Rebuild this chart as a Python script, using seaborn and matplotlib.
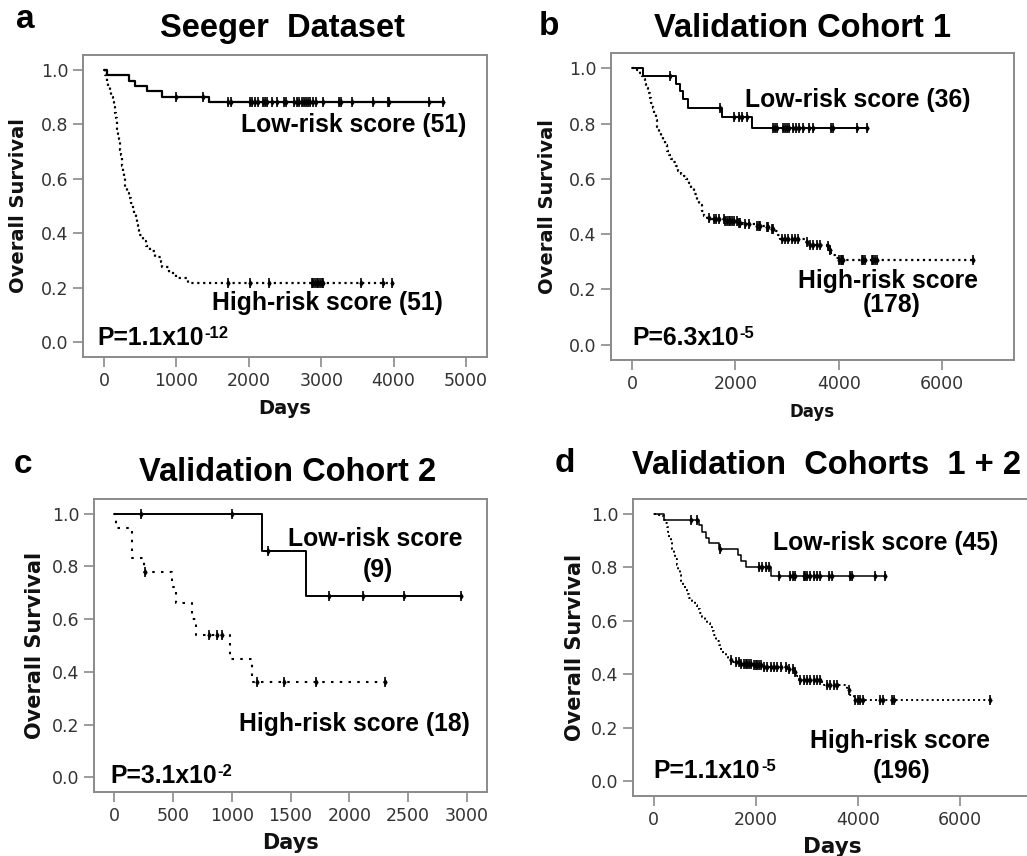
import numpy as np
import pandas as pd
import seaborn as sns
import matplotlib.pyplot as plt

# ---- panel a: Seeger dataset ----
a_low_t = [0, 45, 345, 430, 590, 805, 1455]
a_low_s = [1.0, 0.980, 0.961, 0.941, 0.922, 0.902, 0.882]
a_low_cens = [990, 1363, 1708, 1754, 2017, 2049, 2086, 2132, 2201, 2224, 2247, 2316, 2385,
              2491, 2514, 2629, 2661, 2698, 2730, 2762, 2790, 2822, 2845, 2891, 2928, 3020,
              3250, 3273, 3421, 3720, 3918, 3941, 4494, 4678]
a_high_t = [0, 20, 40, 60, 80, 100, 120, 140, 150, 165, 175, 185, 195, 205, 215, 225, 235,
            245, 255, 265, 275, 285, 295, 320, 350, 375, 395, 420, 440, 460, 470, 480, 540,
            585, 640, 700, 790, 800, 900, 1000, 1160]
a_high_s = [1.0, 0.980, 0.961, 0.941, 0.922, 0.902, 0.882, 0.863, 0.843, 0.824, 0.804,
            0.784, 0.765, 0.745, 0.725, 0.706, 0.686, 0.667, 0.647, 0.627, 0.608, 0.588,
            0.569, 0.549, 0.529, 0.510, 0.490, 0.471, 0.451, 0.431, 0.412, 0.392, 0.373,
            0.353, 0.333, 0.314, 0.294, 0.275, 0.255, 0.235, 0.216]
a_high_cens = [1717, 2017, 2284, 2868, 2891, 2914, 2937, 2960, 2983, 3006, 3029, 3545, 3849, 3973]

# ---- panel b: validation cohort 1 ----
b_low_t = [0, 213, 851, 930, 990, 1084, 1742, 2323]
b_low_s = [1.0, 0.972, 0.944, 0.917, 0.889, 0.855, 0.822, 0.783]
b_low_cens = [728, 1695, 1979, 2062, 2127, 2223, 2739, 2771, 2804, 2932, 2971, 3010, 3048,
              3126, 3177, 3242, 3319, 3435, 3500, 3854, 3899, 4350, 4544]
b_high_t = [0, 100, 150, 190, 220, 250, 280, 310, 340, 370, 400, 430, 460, 490, 520, 560,
            600, 640, 680, 720, 760, 800, 850, 900, 950, 1000, 1050, 1100, 1150, 1200, 1250,
            1300, 1350, 1400, 1450, 1520, 1800, 2050, 2150, 2400, 2600, 2700, 2780, 2830,
            2870, 3350, 3400, 3780, 3810, 3840, 3870, 3930, 4000]
b_high_s = [1.0, 0.994, 0.983, 0.972, 0.961, 0.944, 0.927, 0.910, 0.893, 0.876, 0.857,
            0.835, 0.812, 0.789, 0.767, 0.752, 0.738, 0.722, 0.702, 0.685, 0.671, 0.660,
            0.645, 0.630, 0.618, 0.610, 0.598, 0.586, 0.567, 0.545, 0.525, 0.505, 0.483,
            0.466, 0.459, 0.453, 0.447, 0.441, 0.435, 0.431, 0.427, 0.419, 0.410, 0.396,
            0.383, 0.372, 0.362, 0.356, 0.344, 0.332, 0.325, 0.314, 0.308]
b_high_cens = [1482, 1579, 1631, 1676, 1772, 1805, 1837, 1869, 1901, 1934, 1966, 2030, 2062,
               2095, 2191, 2256, 2417, 2449, 2481, 2610, 2642, 2707, 2739, 2900, 2965, 3029,
               3094, 3158, 3223, 3384, 3448, 3513, 3577, 3641, 3803, 3835, 4010, 4041, 4060,
               4093, 4447, 4479, 4512, 4640, 4673, 4705, 4737, 6606]

# ---- panel c: validation cohort 2 ----
c_low_t = [0, 1254, 1629]
c_low_s = [1.0, 0.857, 0.686]
c_low_cens = [227, 1002, 1311, 1831, 2120, 2461, 2952]
c_high_t = [0, 20, 156, 255, 494, 530, 667, 700, 985, 1175]
c_high_s = [1.0, 0.944, 0.833, 0.778, 0.72, 0.66, 0.60, 0.54, 0.45, 0.36]
c_high_cens = [261, 809, 877, 920, 1212, 1445, 1714, 2304]

# ---- panel d: validation cohorts 1 + 2 ----
d_low_t = [0, 202, 880, 950, 1020, 1090, 1278, 1657, 1720, 1800, 2289]
d_low_s = [1.0, 0.978, 0.956, 0.933, 0.911, 0.889, 0.867, 0.845, 0.823, 0.801, 0.767]
d_low_cens = [724, 854, 1291, 2061, 2126, 2191, 2257, 2452, 2680, 2733, 2778, 2941, 2974,
              3007, 3072, 3137, 3202, 3268, 3431, 3496, 3841, 3887, 4344, 4539]
d_high_t = [0, 80, 140, 202, 230, 255, 280, 305, 330, 360, 390, 420, 450, 480, 510, 540,
            575, 610, 650, 700, 750, 800, 850, 900, 950, 1000, 1050, 1100, 1150, 1190, 1230,
            1270, 1310, 1360, 1410, 1460, 1520, 1700, 1950, 2150, 2600, 2750, 2800, 2844,
            3300, 3333, 3780, 3800, 3850, 3920]
d_high_s = [1.0, 0.995, 0.99, 0.978, 0.965, 0.95, 0.93, 0.91, 0.89, 0.87, 0.85, 0.83, 0.81,
            0.79, 0.77, 0.75, 0.73, 0.715, 0.70, 0.685, 0.672, 0.658, 0.643, 0.628, 0.615,
            0.603, 0.59, 0.577, 0.563, 0.545, 0.525, 0.508, 0.49, 0.475, 0.463, 0.452, 0.445,
            0.44, 0.434, 0.428, 0.418, 0.409, 0.395, 0.378, 0.368, 0.359, 0.348, 0.34, 0.322,
            0.303]
d_high_cens = [1507, 1604, 1670, 1702, 1767, 1800, 1833, 1865, 1898, 1963, 1996, 2028, 2061,
               2094, 2159, 2224, 2289, 2354, 2420, 2485, 2583, 2648, 2733, 2778, 2876, 2941,
               3007, 3072, 3137, 3202, 3268, 3398, 3463, 3528, 3594, 3822, 3952, 3998, 4050,
               4102, 4442, 4494, 4670, 4702, 6594]

y_ticks = [0.0, 0.2, 0.4, 0.6, 0.8, 1.0]

sns.set_theme(style='white')
plt.rcParams['font.family'] = ['DejaVu Sans']

W, H = 1027, 856
fig = plt.figure(figsize=(W / 100, H / 100), dpi=100)
fig.patch.set_facecolor('white')
renderer = fig.canvas.get_renderer()

ARIAL = 'Liberation Sans'
GRAY = '#8a8a8a'


def px_axes(left, top, right, bottom):
    return fig.add_axes([left / W, 1 - bottom / H, (right - left) / W, (bottom - top) / H])


def km_curve(ax, times, surv, cens, ls='-', lw=1.5):
    times = list(times)
    surv = list(surv)
    end = max(max(cens), times[-1])
    df = pd.DataFrame({'days': times + [end], 'surv': surv + [surv[-1]]})
    sns.lineplot(data=df, x='days', y='surv', drawstyle='steps-post', color='black',
                 linestyle=ls, linewidth=lw, estimator=None, sort=False, ax=ax)
    idx = np.searchsorted(times, cens, side='right') - 1
    cdf = pd.DataFrame({'days': cens, 'surv': np.array(surv)[idx]})
    ax.plot(cdf['days'], cdf['surv'], linestyle='none', marker='|', markersize=7,
            markeredgewidth=1.2, color='black')
    sns.scatterplot(data=cdf, x='days', y='surv', marker='d', s=14, color='black',
                    linewidth=0, ax=ax)


def style_axes(ax, xticks, xlim, xlab_size, ylab_size, ylab_x, xlab_y):
    ax.set_xlim(*xlim)
    ax.set_ylim(-0.055, 1.055)
    ax.set_xticks(xticks)
    ax.set_yticks(y_ticks)
    ax.set_yticklabels([f'{v:.1f}' for v in y_ticks])
    for sp in ax.spines.values():
        sp.set_visible(True)
        sp.set_color(GRAY)
        sp.set_linewidth(1.4)
    ax.tick_params(axis='both', direction='out', length=7, width=1.2, color=GRAY,
                   labelcolor='#333333', labelsize=12.5, bottom=True, left=True)
    ax.set_xlabel('Days', fontsize=xlab_size, fontweight='bold', color='#111111')
    ax.set_ylabel('Overall Survival', fontsize=ylab_size, fontweight='bold', color='#111111')
    ax.yaxis.set_label_coords(ylab_x, 0.5)
    ax.xaxis.set_label_coords(0.5, xlab_y)


def note(ax, x, y, s, ha='left', size=17.8):
    return ax.text(x, y, s, ha=ha, va='baseline', fontsize=size, fontweight='bold',
                   family=ARIAL, color='black')


def p_value(ax, x, y, base, expo):
    t = note(ax, x, y, base)
    width_pt = t.get_window_extent(renderer).width * 72 / fig.dpi
    ax.annotate(expo, xy=(x, y), xycoords='data', xytext=(width_pt + 0.5, 5),
                textcoords='offset points', ha='left', va='baseline', fontsize=12,
                fontweight='bold', family=ARIAL, color='black')


# panel a
ax_a = px_axes(83, 55, 487, 357)
km_curve(ax_a, a_low_t, a_low_s, a_low_cens, ls='-', lw=1.6)
km_curve(ax_a, a_high_t, a_high_s, a_high_cens, ls=':', lw=1.6)
style_axes(ax_a, [0, 1000, 2000, 3000, 4000, 5000], (-290, 5290), 14, 14, -0.136, -0.14)
note(ax_a, 1890, 0.773, 'Low-risk score (51)')
note(ax_a, 1492, 0.118, 'High-risk score (51)')
p_value(ax_a, -97, -0.011, 'P=1.1x10', '-12')

# panel b
ax_b = px_axes(611, 53, 1014, 360)
km_curve(ax_b, b_low_t, b_low_s, b_low_cens, ls='-', lw=1.4)
km_curve(ax_b, b_high_t, b_high_s, b_high_cens, ls=':', lw=1.6)
style_axes(ax_b, [0, 2000, 4000, 6000], (-406, 7394), 12, 14, -0.134, -0.14)
note(ax_b, 2187, 0.859, 'Low-risk score (36)')
note(ax_b, 4955, 0.207, 'High-risk score', ha='center')
note(ax_b, 5032, 0.120, '(178)', ha='center')
p_value(ax_b, 0, 0.0, 'P=6.3x10', '-5')

# panel c
ax_c = px_axes(94, 499, 487, 792)
km_curve(ax_c, c_low_t, c_low_s, c_low_cens, ls='-', lw=1.4)
km_curve(ax_c, c_high_t, c_high_s, c_high_cens, ls=(0, (1.2, 3)), lw=1.5)
style_axes(ax_c, [0, 500, 1000, 1500, 2000, 2500, 3000], (-170, 3170), 15, 15, -0.125, -0.14)
note(ax_c, 2218, 0.877, 'Low-risk score', ha='center')
note(ax_c, 2240, 0.760, '(9)', ha='center')
note(ax_c, 1062, 0.175, 'High-risk score (18)')
p_value(ax_c, -34, -0.02, 'P=3.1x10', '-2')

# panel d
ax_d = px_axes(633, 499, 1031, 796)
km_curve(ax_d, d_low_t, d_low_s, d_low_cens, ls='-', lw=1.1)
km_curve(ax_d, d_high_t, d_high_s, d_high_cens, ls=':', lw=1.4)
style_axes(ax_d, [0, 2000, 4000, 6000], (-406, 7394), 15.5, 15, -0.121, -0.138)
note(ax_d, 2345, 0.865, 'Low-risk score (45)')
note(ax_d, 4827, 0.124, 'High-risk score', ha='center')
note(ax_d, 4850, 0.011, '(196)', ha='center')
p_value(ax_d, 0, 0.011, 'P=1.1x10', '-5')

# panel letters and titles
letters = [('a', 25, 28), ('b', 549, 35), ('c', 23, 473), ('d', 565, 472)]
titles = [('Seeger  Dataset', 282, 37), ('Validation Cohort 1', 803, 37),
          ('Validation Cohort 2', 288, 481), ('Validation  Cohorts  1 + 2', 826, 474)]
for s, x, y in letters:
    fig.text(x / W, 1 - y / H, s, ha='center', va='baseline', fontsize=24,
             fontweight='bold', family=ARIAL, color='black')
for s, x, y in titles:
    fig.text(x / W, 1 - y / H, s, ha='center', va='baseline', fontsize=23.5,
             fontweight='bold', family=ARIAL, color='black')

fig.savefig('out.png', dpi=100, facecolor='white')
